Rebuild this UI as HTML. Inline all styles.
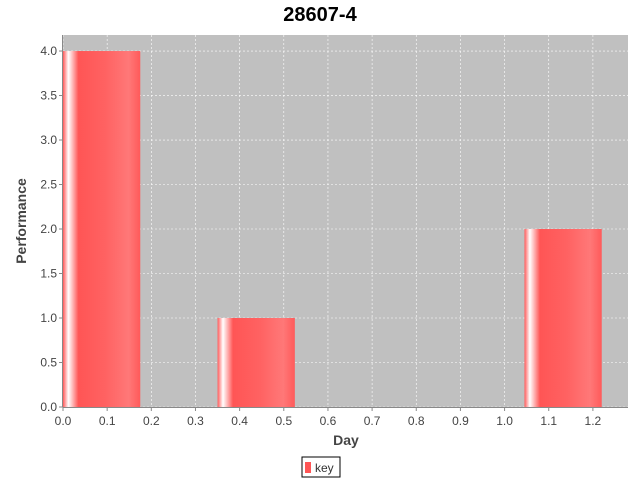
<!DOCTYPE html>
<html><head><meta charset="utf-8"><style>
body{margin:0;background:#fff;}
svg text{font-family:"Liberation Sans",sans-serif;}
</style></head><body>
<svg id="chart" width="640" height="480">
<defs>
<linearGradient id="bg" x1="0" x2="1" y1="0" y2="0">
<stop offset="0" stop-color="#ff5a5a"/>
<stop offset="0.07" stop-color="#ffffff"/>
<stop offset="0.2" stop-color="#ff5555"/>
<stop offset="0.55" stop-color="#ff6262"/>
<stop offset="0.85" stop-color="#ff7878"/>
<stop offset="1" stop-color="#ff5a5a"/>
</linearGradient>
</defs>
<text x="320" y="21" text-anchor="middle" font-size="20" font-weight="bold" fill="#000">28607-4</text>
<rect x="63" y="35" width="565" height="372" fill="#c0c0c0"/>
<g id="grid"></g><g id="bars"></g><g id="axes"></g>
<text transform="translate(26,221) rotate(-90)" text-anchor="middle" font-size="14" font-weight="bold" fill="#444">Performance</text>
<text x="346" y="445" text-anchor="middle" font-size="14" font-weight="bold" fill="#444">Day</text>
<g>
<rect x="302" y="457" width="38" height="20" fill="#fff" stroke="#000"/>
<rect x="305" y="462" width="6" height="11" fill="#ff5555"/>
<text x="315" y="472" font-size="12" fill="#333">key</text>
</g>
</svg>
<script>
const xStarts=[0,0.35,1.045];
const xEnds=[0.175,0.525,1.22];
const values=[4,1,2];
const xTicks=["0.0","0.1","0.2","0.3","0.4","0.5","0.6","0.7","0.8","0.9","1.0","1.1","1.2"];
const yTicks=["0.0","0.5","1.0","1.5","2.0","2.5","3.0","3.5","4.0"];
const L=63,R=628,T=35,B=407,xMax=1.2795,yMax=4.18;
const sx=v=>L+v/xMax*(R-L), sy=v=>B-v/yMax*(B-T);
const ns="http://www.w3.org/2000/svg";
function mk(tag,attrs,parent,txt){const e=document.createElementNS(ns,tag);for(const k in attrs)e.setAttribute(k,attrs[k]);if(txt!==undefined)e.textContent=txt;document.getElementById(parent).appendChild(e);return e;}
xTicks.forEach(t=>{const x=sx(+t);
 const g=mk('line',{x1:x,x2:x,y1:T,y2:B,stroke:'#fff','stroke-width':0.6,'stroke-dasharray':'2,2'},'grid');
 
 
 const k=mk('line',{x1:x,x2:x,y1:B,y2:B+4,stroke:'#888'},'axes');
 
 
 const l=mk('text',{x:x,y:B+18,'text-anchor':'middle','font-size':12,fill:'#444'},'axes',t);
 
 
});
yTicks.forEach(t=>{const y=sy(+t);
 const g=mk('line',{x1:L,x2:R,y1:y,y2:y,stroke:'#fff','stroke-width':0.6,'stroke-dasharray':'2,2'},'grid');
 
 
 const k=mk('line',{x1:L-4,x2:L,y1:y,y2:y,stroke:'#888'},'axes');
 
 
 const l=mk('text',{x:L-6,y:y+4,'text-anchor':'end','font-size':12,fill:'#444'},'axes',t);
 
 
});
values.forEach((v,i)=>{const x0=sx(xStarts[i]),x1=sx(xEnds[i]);
 const b=mk('rect',{x:x0,y:sy(v),width:x1-x0,height:B-sy(v),fill:'url(#bg)'},'bars');
 
 
});
const ax=mk('line',{x1:L,x2:R,y1:B+0.5,y2:B+0.5,stroke:'#888'},'axes');


const ay=mk('line',{x1:L-0.5,x2:L-0.5,y1:T,y2:B,stroke:'#888'},'axes');


</script>
</body></html>
